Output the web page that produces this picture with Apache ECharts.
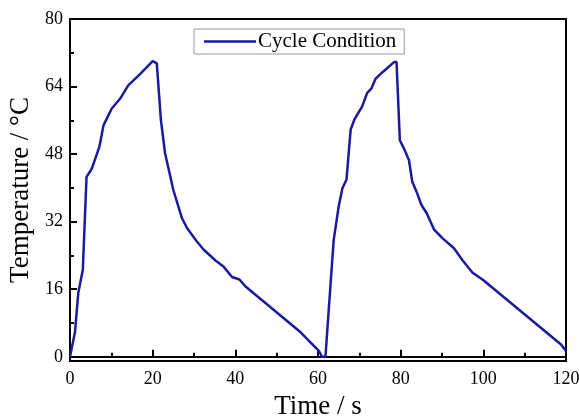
<!DOCTYPE html>
<html>
<head>
<meta charset="utf-8">
<script src="https://cdn.jsdelivr.net/npm/echarts@6/dist/echarts.min.js"></script>
<style>html,body{margin:0;padding:0;background:#fff}#c{width:579px;height:416px}</style>
</head>
<body>
<div id="c"></div>
<script>
var time = [0, 1.2, 2, 3.1, 4.0, 5.3, 7.1, 8.1, 10.1, 12.1, 14.1, 17, 20.0, 21.0, 22.0, 23.0, 25.0, 27.1, 28.3, 30.7, 32.3, 35.2, 37.2, 39.2, 41.0, 42.4, 55.8, 60.2, 61.0, 61.8, 63.0, 63.8, 65.0, 65.9, 66.9, 67.9, 68.8, 70.7, 71.9, 72.9, 73.9, 75.6, 78.4, 79.0, 79.8, 80.8, 82.0, 82.8, 84.0, 85.0, 86.3, 88.1, 90.1, 92.9, 95.0, 97.4, 99.8, 118.8, 120];
var temperature = [0, 5.8, 15.1, 20.6, 42.6, 44.6, 49.7, 54.8, 58.8, 61.1, 64.3, 67.0, 70.0, 69.5, 56.0, 48.2, 39.5, 32.8, 30.5, 27.3, 25.4, 22.8, 21.3, 18.9, 18.3, 16.7, 5.8, 1.4, 0, 0, 16.7, 27.7, 35.6, 39.9, 42.0, 53.8, 56.2, 59.3, 62.5, 63.5, 65.8, 67.4, 69.8, 69.8, 51.3, 49.3, 46.6, 41.5, 38.7, 36.0, 34.0, 30.1, 28.1, 25.7, 22.8, 19.9, 18.3, 2.9, 1.4];
var yTicks = [0, 16, 32, 48, 64, 80];
var yMinorTicks = [8, 24, 40, 56, 72];
var seriesName = 'Cycle Condition';

var data = time.map(function (t, i) { return [t, temperature[i]]; });
var font = 'Liberation Serif';
var chart = echarts.init(document.getElementById('c'));
chart.setOption({
  animation: false,
  backgroundColor: '#fff',
  grid: { left: 70, right: 13, top: 19, bottom: 55, outerBoundsMode: 'none', containLabel: false, show: true, borderColor: '#000', borderWidth: 2, backgroundColor: 'transparent' },
  legend: {
    left: 194, top: 29,
    data: [{ name: seriesName, icon: 'rect' }],
    borderColor: '#999', borderWidth: 1, borderRadius: 0,
    padding: [2, 8, 2, 10],
    itemWidth: 52, itemHeight: 2.5, itemGap: 2,
    textStyle: { fontFamily: font, fontSize: 21, color: '#000', padding: [0, 0, 0, -3] }
  },
  xAxis: {
    type: 'value', min: 0, max: 120, interval: 20,
    name: 'Time / s', nameLocation: 'middle', nameGap: 32,
    nameTextStyle: { fontFamily: font, fontSize: 27, color: '#000' },
    axisLine: { show: true, lineStyle: { color: '#000', width: 2 } },
    axisTick: { show: true, inside: true, length: 7, lineStyle: { color: '#000', width: 2 } },
    minorTick: { show: true, splitNumber: 2, length: 4, lineStyle: { color: '#000', width: 2 } },
    axisLabel: { fontFamily: font, fontSize: 18, color: '#000', margin: 9 },
    splitLine: { show: false }
  },
  yAxis: [{
    type: 'value', min: -1, max: 80,
    name: 'Temperature / °C', nameLocation: 'middle', nameGap: 36,
    nameTextStyle: { fontFamily: font, fontSize: 27, color: '#000' },
    axisLine: { show: true, lineStyle: { color: '#000', width: 2 } },
    axisTick: { show: true, inside: true, length: 7, customValues: yTicks, lineStyle: { color: '#000', width: 2 } },
    axisLabel: { fontFamily: font, fontSize: 18, color: '#000', margin: 7, customValues: yTicks },
    splitLine: { show: false }
  }, {
    type: 'value', min: -1, max: 80, position: 'left',
    axisLine: { show: false },
    axisTick: { show: true, inside: true, length: 4, customValues: yMinorTicks, lineStyle: { color: '#000', width: 2 } },
    axisLabel: { show: false },
    splitLine: { show: false }
  }],
  series: [{
    name: seriesName, type: 'line', data: data, yAxisIndex: 0,
    symbol: 'none', smooth: false,
    lineStyle: { color: '#1a1a9e', width: 2.5 },
    itemStyle: { color: '#1a1a9e' }
  }]
});
</script>
</body>
</html>
